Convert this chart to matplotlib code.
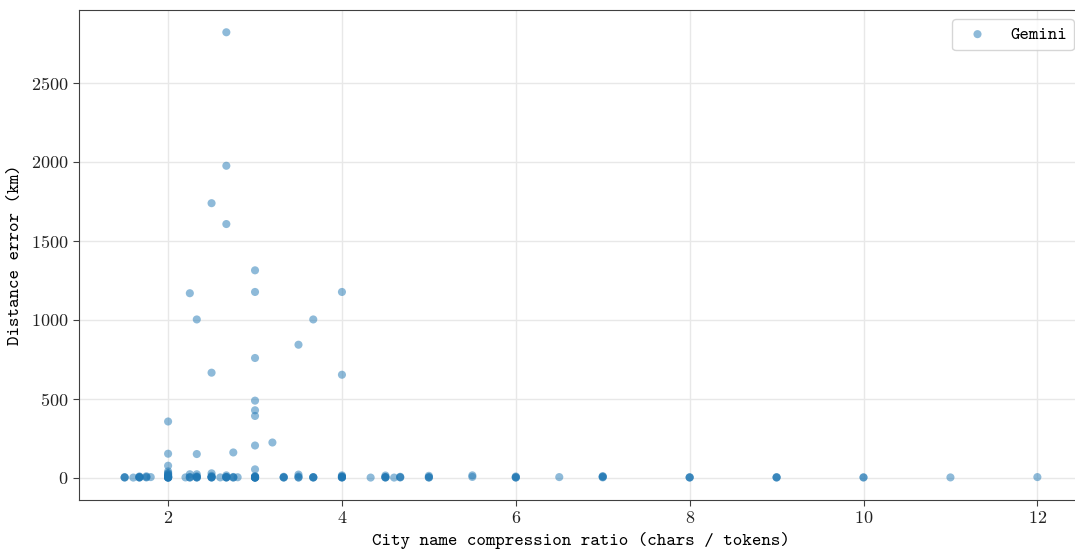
import numpy as np
import matplotlib.pyplot as plt

# compression ratio levels (chars / tokens) and the distance errors (km) seen at each
ratio_levels = [1.5, 1.6, 1.67, 1.75, 1.8, 2, 2.2, 2.25, 2.33, 2.5, 2.6, 2.67,
                2.75, 2.8, 3, 3.2, 3.33, 3.5, 3.67, 4, 4.33, 4.5, 4.6, 4.67,
                5, 5.5, 6, 6.5, 7, 8, 9, 10, 11, 12]
errors_at_level = [
    [2, 4, 1],                                # 1.5
    [1],                                      # 1.6
    [3, 8, 5, 2, 1],                          # 1.67
    [2, 9, 4],                                # 1.75
    [4],                                      # 1.8
    [356, 152, 76, 40, 30, 20, 12, 6, 3, 1, 8, 15, 25, 2, 4, 1, 0, 5],  # 2
    [2],                                      # 2.2
    [1168, 22, 5, 2, 1],                      # 2.25
    [1002, 150, 22, 3, 9, 1, 2, 5],           # 2.33
    [1738, 665, 28, 12, 4, 1, 2, 6, 3],       # 2.5
    [2],                                      # 2.6
    [2820, 1975, 1606, 15, 6, 2, 1, 4, 3],    # 2.67
    [160, 5, 1, 2],                           # 2.75
    [3],                                      # 2.8
    [1313, 1176, 758, 488, 427, 391, 204, 53, 10, 5, 2, 1, 7, 3, 0, 4, 2, 1],  # 3
    [223],                                    # 3.2
    [2, 6, 1, 3],                             # 3.33
    [842, 20, 8, 2, 1],                       # 3.5
    [1002, 4, 1, 2, 3],                       # 3.67
    [1176, 652, 15, 6, 2, 9, 1, 3, 4],        # 4
    [1],                                      # 4.33
    [14, 5, 2, 1, 3],                         # 4.5
    [1],                                      # 4.6
    [3, 6, 2],                                # 4.67
    [12, 4, 2, 1],                            # 5
    [15, 5],                                  # 5.5
    [8, 3, 1, 2],                             # 6
    [4],                                      # 6.5
    [10, 5, 2, 7],                            # 7
    [3, 1, 2],                                # 8
    [4, 2, 1],                                # 9
    [3, 1],                                   # 10
    [2],                                      # 11
    [4],                                      # 12
]

ratio = np.repeat(ratio_levels, [len(e) for e in errors_at_level])
error_km = np.concatenate(errors_at_level)

plt.rcParams['axes.edgecolor'] = '#404040'
plt.rcParams['axes.unicode_minus'] = False
plt.rcParams['axes.formatter.use_mathtext'] = True
plt.rcParams['mathtext.fontset'] = 'cm'
mono = 'cmtt10'

fig = plt.figure(figsize=(10.75, 5.53), dpi=100)
# the plotting area runs a little past the right edge of the canvas
ax = fig.add_axes([79 / 1075, 53 / 553, 1004 / 1075, 490 / 553])

ax.scatter(ratio, error_km, s=34, color='#1f77b4', alpha=0.5,
           edgecolors='none', label='Gemini', zorder=3)

ax.grid(True, color='#e8e8e8', linewidth=1, zorder=0)
ax.set_axisbelow(True)
ax.set_xlabel('City name compression ratio (chars / tokens)',
              family=mono, fontsize=13, labelpad=4)
ax.set_ylabel('Distance error (km)', family=mono, fontsize=13, labelpad=6)
ax.tick_params(labelsize=13, color='#404040', length=4, labelcolor='#222222')
for lbl in ax.get_xticklabels() + ax.get_yticklabels():
    lbl.set_family('cmr10')

leg = ax.legend(loc='upper right', prop={'family': mono, 'size': 13})
leg.get_frame().set_edgecolor('#cccccc')

fig.savefig('out.png', dpi=100)
